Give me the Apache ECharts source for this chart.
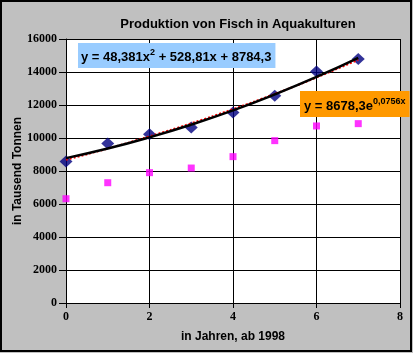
<!DOCTYPE html>
<html>
<head>
<meta charset="utf-8">
<script src="https://cdn.jsdelivr.net/npm/echarts@6/dist/echarts.min.js"></script>
<style>
html,body{margin:0;padding:0;background:#c0c0c0;}
#chart{width:413px;height:353px;}
</style>
</head>
<body>
<div id="chart"></div>
<script>
// Data
var years = [0, 1, 2, 3, 4, 5, 6, 7];
var seriesA = [8570, 9660, 10230, 10630, 11540, 12560, 14030, 14790];   // dark blue diamonds
var seriesB = [6320, 7290, 7900, 8180, 8870, 9840, 10730, 10870];      // magenta squares
var polyTrend = [8780, 9360, 10040, 10810, 11670, 12640, 13700, 14860];  // black polynomial trend line
var expTrend = [8680, 9360, 10100, 10890, 11750, 12670, 13670, 14740];   // red dotted exponential trend line
var xTicks = [0, 2, 4, 6, 8];
var yTicks = [0, 2000, 4000, 6000, 8000, 10000, 12000, 14000, 16000];

function pairs(xs, ys) { return xs.map(function (x, i) { return [x, ys[i]]; }); }

var chart = echarts.init(document.getElementById('chart'), null, { renderer: 'canvas' });
var sansBold = { fontFamily: "'Liberation Sans', Arial, sans-serif", fontWeight: 'bold', color: '#000' };
var serifFont = "'Liberation Serif', 'Times New Roman', serif";

chart.setOption({
  backgroundColor: '#c0c0c0',
  animation: false,
  title: [
    {
      text: 'Produktion von Fisch in Aquakulturen',
      left: 233, top: 13, textAlign: 'center',
      textStyle: Object.assign({ fontSize: 13 }, sansBold)
    },
    {
      text: '{m|y = 48,381x}{s|2}{m| + 528,81x + 8784,3}',
      left: 78, top: 43,
      backgroundColor: '#99ccff',
      padding: [5, 4, 4, 3],
      textStyle: {
        rich: {
          m: Object.assign({ fontSize: 13, lineHeight: 16, verticalAlign: 'bottom' }, sansBold),
          s: Object.assign({ fontSize: 9, lineHeight: 16, verticalAlign: 'top' }, sansBold)
        }
      }
    },
    {
      text: '{m|y = 8678,3e}{s|0,0756x}',
      left: 300, top: 91,
      backgroundColor: '#ff9900',
      padding: [6, 4, 4, 4],
      textStyle: {
        rich: {
          m: Object.assign({ fontSize: 13, lineHeight: 16, verticalAlign: 'bottom' }, sansBold),
          s: Object.assign({ fontSize: 9, lineHeight: 16, verticalAlign: 'top' }, sansBold)
        }
      }
    }
  ],
  grid: {
    left: 66, right: 13, top: 39, bottom: 50,
    containLabel: false, outerBoundsMode: 'none',
    show: true, backgroundColor: '#ffffff', borderWidth: 0
  },
  xAxis: {
    type: 'value', min: xTicks[0], max: xTicks[xTicks.length - 1], interval: 2,
    name: 'in Jahren, ab 1998', nameLocation: 'middle', nameGap: 28, nameMoveOverlap: false,
    nameTextStyle: Object.assign({ fontSize: 12 }, sansBold),
    axisLine: { show: true, lineStyle: { color: '#000', width: 1 } },
    axisTick: { show: true, inside: false, length: 5, lineStyle: { color: '#000' } },
    axisLabel: { color: '#000', fontSize: 12, fontWeight: 'bold', fontFamily: serifFont, margin: 8,
      formatter: function (v) { return String(v); } },
    splitLine: { show: true, lineStyle: { color: '#000', width: 1 } }
  },
  yAxis: {
    type: 'value', min: yTicks[0], max: yTicks[yTicks.length - 1], interval: 2000,
    name: 'in Tausend Tonnen', nameLocation: 'middle', nameGap: 42, nameMoveOverlap: false,
    nameTextStyle: Object.assign({ fontSize: 12 }, sansBold),
    axisLine: { show: true, lineStyle: { color: '#000', width: 1 } },
    axisTick: { show: true, inside: false, length: 7, lineStyle: { color: '#000' } },
    axisLabel: { color: '#000', fontSize: 12, fontWeight: 'bold', fontFamily: serifFont, margin: 9,
      formatter: function (v) { return String(v); } },
    splitLine: { show: true, lineStyle: { color: '#000', width: 1 } }
  },
  series: [
    {
      type: 'scatter', data: pairs(years, seriesB), symbol: 'rect', symbolSize: 7,
      itemStyle: { color: '#ff00ff' }, z: 2
    },
    {
      type: 'scatter', data: pairs(years, seriesA), symbol: 'diamond', symbolSize: [13, 12],
      itemStyle: { color: '#000080' }, z: 2
    },
    {
      type: 'line', data: pairs(years, expTrend), smooth: true, showSymbol: false, symbol: 'none',
      lineStyle: { color: '#ff0000', width: 2, type: 'dotted' }, z: 3
    },
    {
      type: 'line', data: pairs(years, polyTrend), smooth: true, showSymbol: false, symbol: 'none',
      lineStyle: { color: '#000000', width: 2.5 }, z: 4
    }
  ],
  graphic: [
    {
      type: 'rect', silent: true, z: 100,
      shape: { x: 1, y: 1, width: 410, height: 350 },
      style: { fill: 'none', stroke: '#000', lineWidth: 2 }
    }
  ]
});
</script>
</body>
</html>
